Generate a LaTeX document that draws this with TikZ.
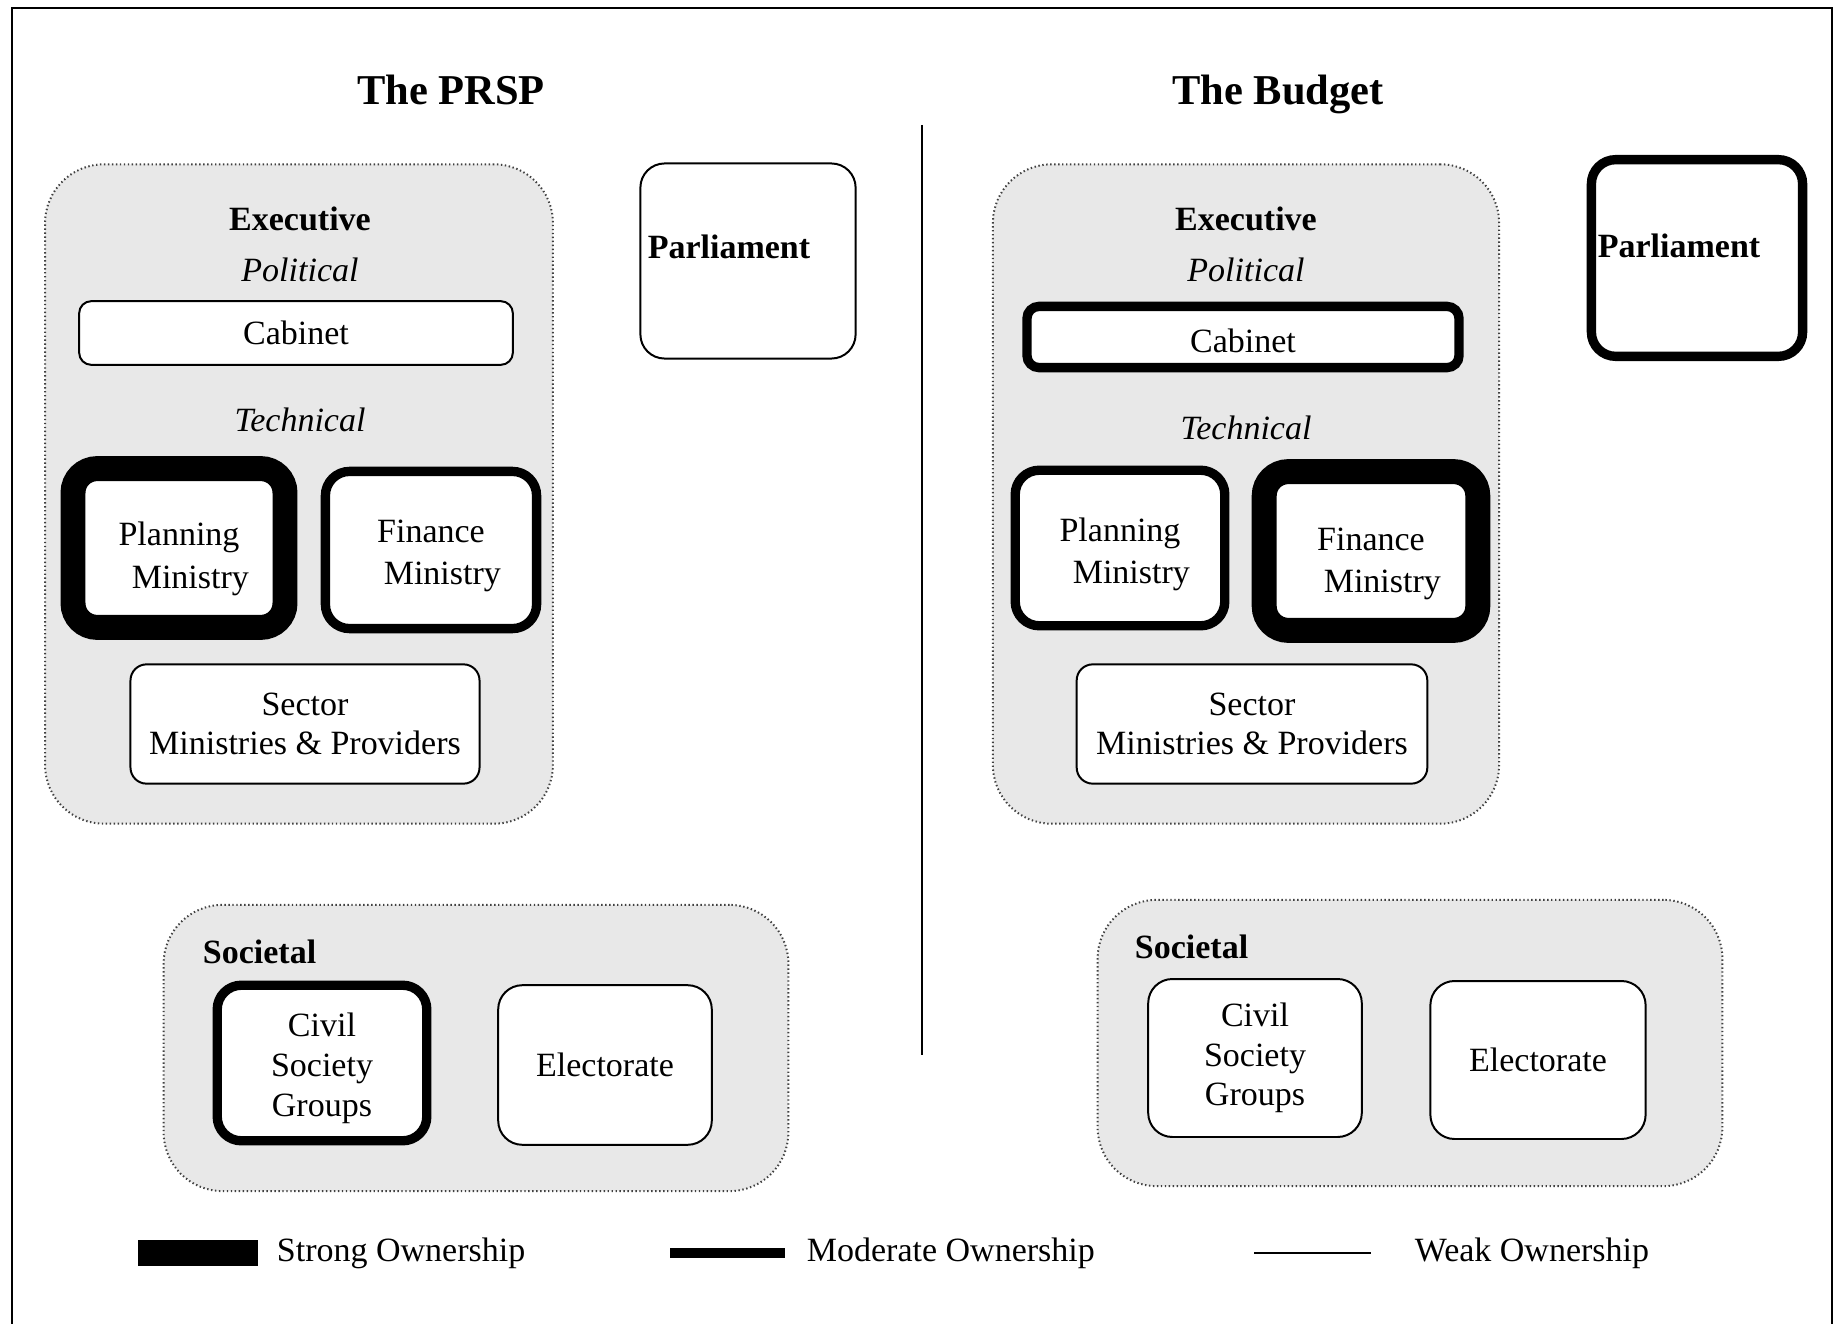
\documentclass[tikz,border=0pt,12pt]{standalone}
\usepackage{fontspec}
\setmainfont{Liberation Serif}
\usetikzlibrary{positioning}
\tikzset{
  grp/.style={draw=black!75, dash pattern=on 0.5pt off 0.9pt, line width=0.7pt, fill=gray!18, rounded corners=0.73cm},
  org/.style={draw, fill=white, rounded corners=0.3cm, align=center, inner sep=2pt, font=\fontsize{12}{14}\selectfont},
  twoline/.style={font=\fontsize{12}{15}\selectfont},
  weak/.style={line width=0.7pt},
  moderate/.style={line width=3.3pt},
  strong/.style={line width=8.8pt},
  head/.style={font=\bfseries\fontsize{12}{14}\selectfont},
  sub/.style={font=\itshape\fontsize{12}{14}\selectfont},
  title/.style={anchor=base, font=\bfseries\fontsize{15}{18}\selectfont},
  key/.style={anchor=west, font=\fontsize{12}{14}\selectfont},
}
% pushes the first line of a box down a little
\newcommand{\dropby}[1]{\rule{0pt}{#1}}
\begin{document}
\begin{tikzpicture}[x=0.0124cm, y=-0.0124cm]
  \useasboundingbox (0,0) rectangle (1838,1324);
  % frame and divider
  \draw[line width=1pt] (12,1324) -- (12,8) -- (1832,8) -- (1832,1324);
  \draw[line width=0.7pt] (922,125) -- (922,1055);
  % titles
  \node[title] (prsp) at (451,105) {The PRSP};
  \node[title] (budget) at (1278,105) {The Budget};

  % ---- the PRSP ----
  \node[grp, minimum width=6.30cm, minimum height=8.18cm] (exeL) at (299,494) {};
  \node[head] (exeLt) at (300,219) {Executive};
  \node[sub] (polL) at (300,270) {Political};
  \node[org, weak, rounded corners=0.15cm, minimum width=5.38cm, minimum height=0.79cm] (cabL) at (296,333) {Cabinet};
  \node[sub] (techL) at (300,420) {Technical};
  \node[org, twoline, strong, minimum width=2.63cm, minimum height=1.97cm] (planL) at (179,548) {\dropby{16pt}Planning\\ \hspace{8pt}Ministry};
  \node[org, twoline, moderate, minimum width=2.62cm, minimum height=1.95cm] (finL) at (431,550) {\dropby{12pt}Finance\\ \hspace{8pt}Ministry};
  \node[org, weak, rounded corners=0.2cm, minimum width=4.33cm, minimum height=1.48cm] (secL) at (305,724) {Sector\\ Ministries \& Providers};
  \node[org, weak, minimum width=2.67cm, minimum height=2.42cm] (parL) at (748,261) {};
  \node[head] (parLt) at (729,247) {Parliament};

  \node[grp, minimum width=7.75cm, minimum height=3.55cm] (socL) at (476,1048) {};
  \node[head, anchor=west] (socLt) at (191,952) {Societal};
  \node[org, moderate, minimum width=2.60cm, minimum height=1.93cm] (civL) at (322,1063) {\dropby{12pt}Civil\\ Society\\ Groups};
  \node[org, weak, minimum width=2.65cm, minimum height=1.98cm] (eleL) at (605,1065) {Electorate};

  % ---- the Budget ----
  \node[grp, minimum width=6.28cm, minimum height=8.18cm] (exeR) at (1246,494) {};
  \node[head] (exeRt) at (1246,219) {Executive};
  \node[sub] (polR) at (1246,270) {Political};
  \node[org, moderate, rounded corners=0.15cm, minimum width=5.36cm, minimum height=0.76cm] (cabR) at (1243,337) {\dropby{11pt}Cabinet};
  \node[sub] (techR) at (1246,428) {Technical};
  \node[org, twoline, moderate, minimum width=2.60cm, minimum height=1.93cm] (planR) at (1120,548) {\dropby{13pt}Planning\\ \hspace{8pt}Ministry};
  \node[org, twoline, strong, minimum width=2.65cm, minimum height=1.97cm] (finR) at (1371,551) {\dropby{17pt}Finance\\ \hspace{8pt}Ministry};
  \node[org, weak, rounded corners=0.2cm, minimum width=4.35cm, minimum height=1.48cm] (secR) at (1252,724) {Sector\\ Ministries \& Providers};
  \node[org, moderate, minimum width=2.62cm, minimum height=2.44cm] (parR) at (1697,258) {};
  \node[head] (parRt) at (1679,246) {Parliament};

  \node[grp, minimum width=7.75cm, minimum height=3.55cm] (socR) at (1410,1043) {};
  \node[head, anchor=west] (socRt) at (1123,947) {Societal};
  \node[org, weak, minimum width=2.65cm, minimum height=1.96cm] (civR) at (1255,1058) {Civil\\ Society\\ Groups};
  \node[org, weak, minimum width=2.67cm, minimum height=1.96cm] (eleR) at (1538,1060) {Electorate};

  % legend
  \node[fill=black, minimum width=1.49cm, minimum height=0.32cm, inner sep=0pt] (strongkey) at (198,1253) {};
  \node[key] (strongtxt) at (265,1253) {Strong Ownership};
  \coordinate (moda) at (670,1253);
  \coordinate (modb) at (785,1253);
  \draw[moderate] (moda) -- (modb);
  \node[key] (modtxt) at (795,1253) {Moderate Ownership};
  \coordinate (weaka) at (1254,1253);
  \coordinate (weakb) at (1371,1253);
  \draw[line width=1pt] (weaka) -- (weakb);
  \node[key] (weaktxt) at (1403,1253) {Weak Ownership};
\end{tikzpicture}
\end{document}
